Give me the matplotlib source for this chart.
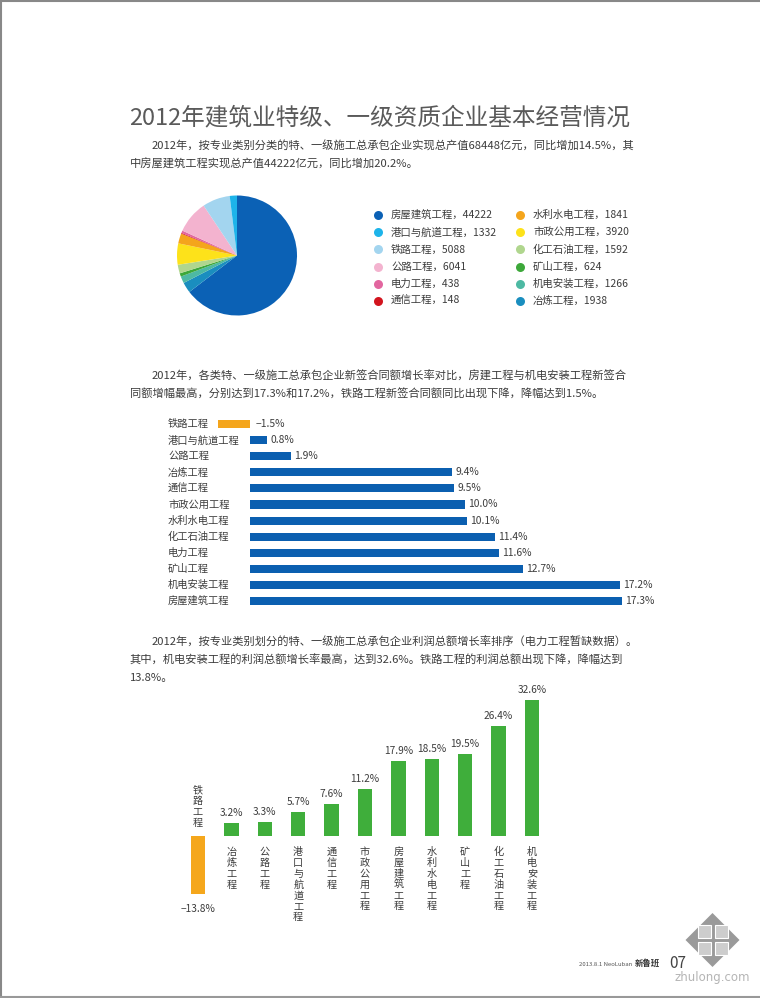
import matplotlib
matplotlib.use("Agg")
import matplotlib.pyplot as plt
from matplotlib.patches import Polygon, Rectangle

plt.rcParams['font.family'] = ['Noto Sans CJK SC', 'DejaVu Sans']

# ---- data ----
pie_names = ["房屋建筑工程", "港口与航道工程", "铁路工程", "公路工程", "电力工程", "通信工程",
             "水利水电工程", "市政公用工程", "化工石油工程", "矿山工程", "机电安装工程", "冶炼工程"]
pie_values = [44222, 1332, 5088, 6041, 438, 148, 1841, 3920, 1592, 624, 1266, 1938]
pie_colors = ["#0b61b5", "#1db4ea", "#a3d5ef", "#f3b3cf", "#e2669f", "#d2141e",
              "#f4a51c", "#fde21a", "#b0d68e", "#3da83a", "#4db9a3", "#1a8ebf"]
# clockwise from 12 o'clock as in the magazine
pie_order = [0, 11, 10, 9, 8, 7, 6, 5, 4, 3, 2, 1]

contract_names = ["铁路工程", "港口与航道工程", "公路工程", "冶炼工程", "通信工程", "市政公用工程",
                  "水利水电工程", "化工石油工程", "电力工程", "矿山工程", "机电安装工程", "房屋建筑工程"]
contract_growth = [-1.5, 0.8, 1.9, 9.4, 9.5, 10.0, 10.1, 11.4, 11.6, 12.7, 17.2, 17.3]

profit_names = ["铁路工程", "冶炼工程", "公路工程", "港口与航道工程", "通信工程", "市政公用工程",
                "房屋建筑工程", "水利水电工程", "矿山工程", "化工石油工程", "机电安装工程"]
profit_growth = [-13.8, 3.2, 3.3, 5.7, 7.6, 11.2, 17.9, 18.5, 19.5, 26.4, 32.6]

title = "2012年建筑业特级、一级资质企业基本经营情况"
para1 = ["2012年，按专业类别分类的特、一级施工总承包企业实现总产值68448亿元，同比增加14.5%，其",
         "中房屋建筑工程实现总产值44222亿元，同比增加20.2%。"]
para2 = ["2012年，各类特、一级施工总承包企业新签合同额增长率对比，房建工程与机电安装工程新签合",
         "同额增幅最高，分别达到17.3%和17.2%，铁路工程新签合同额同比出现下降，降幅达到1.5%。"]
para3 = ["2012年，按专业类别划分的特、一级施工总承包企业利润总额增长率排序（电力工程暂缺数据）。",
         "其中，机电安装工程的利润总额增长率最高，达到32.6%。铁路工程的利润总额出现下降，降幅达到",
         "13.8%。"]

W, H = 760, 998
fig = plt.figure(figsize=(W / 100, H / 100), dpi=100)
fig.patch.set_facecolor("white")


def box(x0, y0, x1, y1):
    # pixel box (top-left origin) -> figure fraction
    return [x0 / W, 1 - y1 / H, (x1 - x0) / W, (y1 - y0) / H]


# page layer in pixel coordinates
page = fig.add_axes([0, 0, 1, 1])
page.set_xlim(0, W)
page.set_ylim(H, 0)
page.axis("off")
page.plot([0, W], [1, 1], color="#888888", lw=1.5)
page.plot([1, 1], [0, H], color="#888888", lw=1.5)
page.plot([0, W], [996.5, 996.5], color="#999999", lw=1.5)

txt = "#3c3c3c"
page.text(129, 118, title, fontsize=17, color="#5a5a5a", va="center", ha="left")
for i, line in enumerate(para1):
    page.text(152 if i == 0 else 130, 146 + 18 * i, line, fontsize=8.1, color=txt, va="center")
for i, line in enumerate(para2):
    page.text(152 if i == 0 else 130, 376 + 18 * i, line, fontsize=8.1, color=txt, va="center")
for i, line in enumerate(para3):
    page.text(152 if i == 0 else 130, 642 + 18 * i, line, fontsize=8.1, color=txt, va="center")

# ---- pie ----
axp = fig.add_axes(box(177, 195.5, 297, 315.5))
axp.pie([pie_values[k] for k in pie_order], colors=[pie_colors[k] for k in pie_order],
        startangle=90, counterclock=False, wedgeprops=dict(linewidth=0))
axp.set_xlim(-1, 1)
axp.set_ylim(-1, 1)
axp.set_aspect("equal")

# legend, two columns
for k, (name, val, col) in enumerate(zip(pie_names, pie_values, pie_colors)):
    cx = 378 if k < 6 else 520
    cy = 215 + 17.2 * (k % 6)
    page.scatter([cx], [cy], s=42, color=col, linewidths=0)
    page.text(cx + 13, cy, f"{name}，{val}", fontsize=7.5, color=txt, va="center")

# ---- horizontal bars: new contracts ----
scale_h = 21.5
row_h = 16.04
axh = fig.add_axes(box(250 - 1.5 * scale_h, 424.3 - row_h / 2, 250 + 20 * scale_h, 424.3 + row_h * 11.5))
ypos = list(range(len(contract_names)))
hcolors = ["#f4a51c" if v < 0 else "#0b5fb0" for v in contract_growth]
axh.barh(ypos, contract_growth, height=0.5, color=hcolors, linewidth=0)
axh.set_xlim(-1.5, 20)
axh.set_ylim(len(contract_names) - 0.5, -0.5)
axh.axis("off")
for y, name, v in zip(ypos, contract_names, contract_growth):
    lab = f"−{abs(v):.1f}%" if v < 0 else f"{v:.1f}%"
    axh.annotate(lab, (max(v, 0), y), xytext=(6 if v < 0 else 3, 0), textcoords="offset pixels",
                 fontsize=7.4, color=txt, va="center", ha="left")
    page.text(168, 424.3 + row_h * y, name, fontsize=7.4, color=txt, va="center", ha="left")

# ---- vertical bars: profit ----
sp = 33.4
scale_v = 4.18
axv = fig.add_axes(box(198 - sp / 2, 836 - 34 * scale_v, 532 + sp / 2, 836 + 14.5 * scale_v))
xpos = list(range(len(profit_names)))
vcolors = ["#f5a71c" if v < 0 else "#3fae3b" for v in profit_growth]
axv.bar(xpos, profit_growth, width=0.43, color=vcolors, linewidth=0)
axv.set_xlim(-0.5, len(profit_names) - 0.5)
axv.set_ylim(-14.5, 34)
axv.axis("off")
for x, name, v in zip(xpos, profit_names, profit_growth):
    if v < 0:
        axv.annotate(f"−{abs(v):.1f}%", (x, v), xytext=(0, -10), textcoords="offset pixels",
                     fontsize=7.3, color=txt, va="top", ha="center", annotation_clip=False)
        for k, ch in enumerate(reversed(name)):
            axv.annotate(ch, (x, 0), xytext=(0, 13 + 10.9 * k), textcoords="offset pixels",
                         fontsize=7.3, color=txt, va="center", ha="center", annotation_clip=False)
    else:
        axv.annotate(f"{v:.1f}%", (x, v), xytext=(0, 5), textcoords="offset pixels",
                     fontsize=7.3, color=txt, va="bottom", ha="center", annotation_clip=False)
        for k, ch in enumerate(name):
            axv.annotate(ch, (x, 0), xytext=(0, -16 - 10.9 * k), textcoords="offset pixels",
                         fontsize=7.3, color=txt, va="center", ha="center", annotation_clip=False)

# ---- footer ----
page.text(632, 964, "2013.8.1 NeoLuban", fontsize=4.3, style="italic", color="#555555",
          va="center", ha="right")
page.text(660, 963, "新鲁班", fontsize=6, fontweight="bold", color="#333333", va="center", ha="right")
page.text(669, 963, "07", fontsize=11, color="#444444", va="center", ha="left")

# zhulong watermark logo
cx, cy, r = 712.5, 940, 27
page.add_patch(Polygon([[cx, cy - r], [cx + r, cy], [cx, cy + r], [cx - r, cy]],
                       closed=True, facecolor="#9a9a9a", edgecolor="none"))
for dx in (-1, 1):
    for dy in (-1, 1):
        page.add_patch(Rectangle((cx + (2 if dx > 0 else -15), cy + (2 if dy > 0 else -15)), 13, 13,
                                 facecolor="#cdcdcd", edgecolor="white", lw=0.8))
page.text(712, 977, "zhulong.com", fontsize=8.5, color="#b5b5b5", va="center", ha="center",
          family=["DejaVu Sans"])

fig.savefig("out.png", dpi=100)
